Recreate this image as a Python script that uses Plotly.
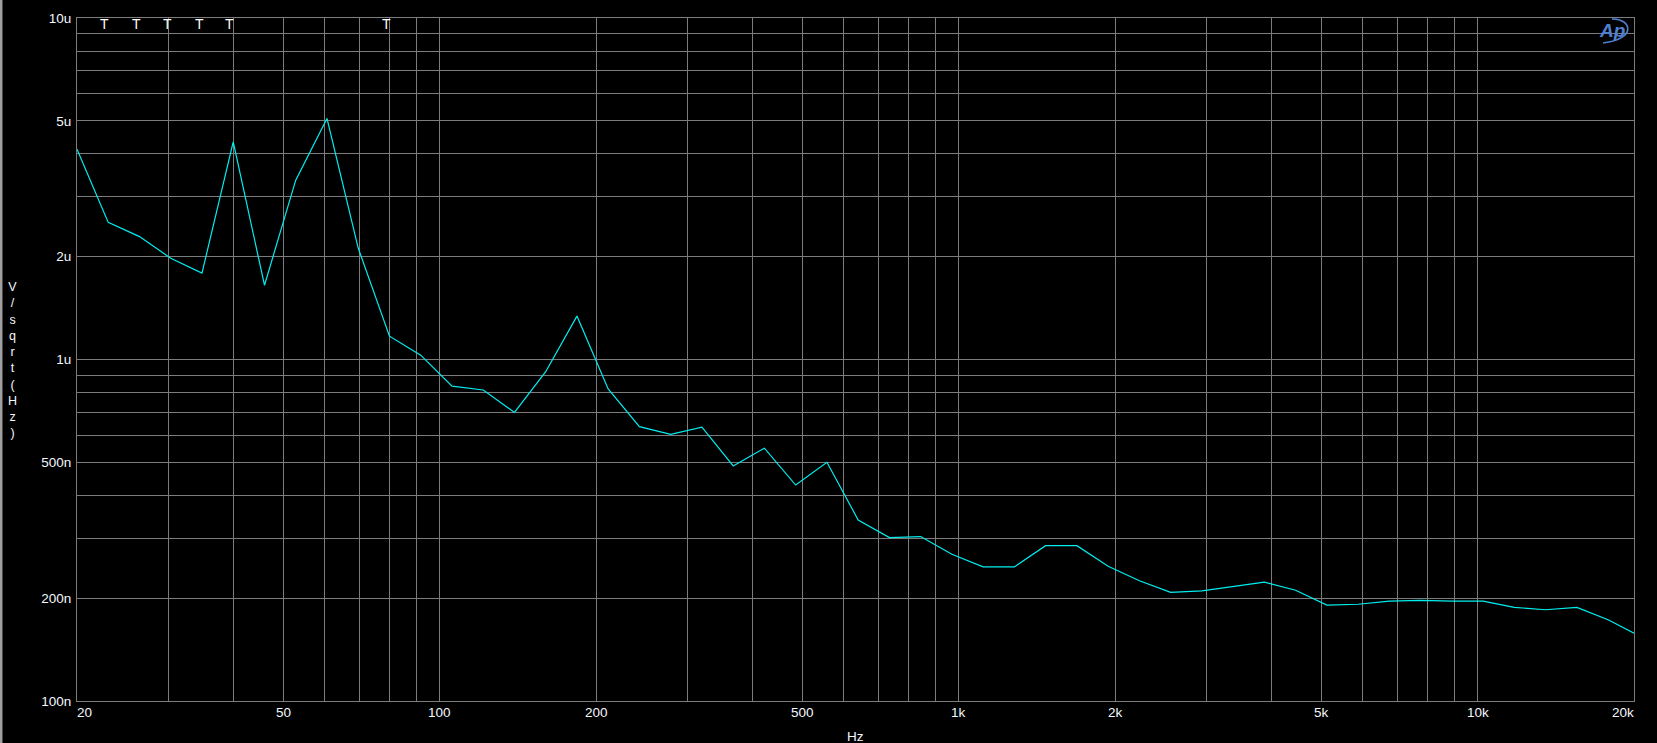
import math
import plotly.graph_objects as go

# ---------------- data ----------------
FREQ_HZ = [20, 22.97, 26.39, 30.31, 34.82, 40, 45.95, 52.78, 60.63, 69.64,
           80, 91.9, 105.6, 121.3, 139.3, 160, 183.8, 211.1, 242.5, 278.6,
           320, 367.6, 422.2, 485, 557.2, 640, 735.2, 844.5, 970, 1114,
           1280, 1470, 1689, 1940, 2229, 2560, 2941, 3378, 3880, 4457,
           5120, 5881, 6756, 7760, 8914, 10240, 11760, 13510, 15520, 17830,
           20000]
NOISE_V = [4.13e-6, 2.52e-6, 2.29e-6, 1.98e-6, 1.79e-6, 4.34e-6, 1.65e-6, 3.35e-6, 5.08e-6, 2.12e-6,
           1.17e-6, 1.03e-6, 836e-9, 814e-9, 700e-9, 921e-9, 1.34e-6, 820e-9, 636e-9, 604e-9,
           634e-9, 488e-9, 550e-9, 429e-9, 500e-9, 339e-9, 301e-9, 303e-9, 269e-9, 247e-9,
           247e-9, 285e-9, 285e-9, 248e-9, 225e-9, 208e-9, 210e-9, 216e-9, 223e-9, 211e-9,
           191e-9, 192e-9, 196e-9, 197e-9, 196e-9, 196e-9, 188e-9, 185e-9, 188e-9, 173e-9,
           158e-9]

X_TICK_VALS = [20, 50, 100, 200, 500, 1000, 2000, 5000, 10000, 20000]
X_TICK_TEXT = ["20", "50", "100", "200", "500", "1k", "2k", "5k", "10k", "20k"]
Y_TICK_VALS = [1e-7, 2e-7, 5e-7, 1e-6, 2e-6, 5e-6, 1e-5]
Y_TICK_TEXT = ["100n", "200n", "500n", "1u", "2u", "5u", "10u"]
T_MARK_FREQS = [22.6, 26.0, 29.9, 34.4, 39.4, 78.8]

X_TITLE = "Hz"
Y_TITLE = "V/sqrt(Hz)"

# ---------------- style ----------------
W, H = 1657, 743
L, R, T, B = 77, 23, 18, 42
GRID = "#7c7c7c"
TEXT = "#f4f8ff"
TRACE = "#00eef0"
FONT = "Liberation Sans, Arial, sans-serif"
LOGO = "#4f7fcf"

PLOT_W = W - L - R
PLOT_H = H - T - B


def px_x(px):
    return (px - L) / PLOT_W


def px_y(py):
    return (H - B - py) / PLOT_H


x_grid = [m * 10 ** d for d in range(1, 5) for m in range(1, 10)
          if 20 <= m * 10 ** d <= 20000] + [20000]
y_grid = [m * 10 ** d for d in range(-7, -5) for m in range(1, 10)] + [1e-5]

y_lab = {round(math.log10(v), 6): t for v, t in zip(Y_TICK_VALS, Y_TICK_TEXT)}
y_text = [y_lab.get(round(math.log10(v), 6), "") for v in y_grid]

fig = go.Figure()
fig.add_trace(go.Scatter(x=FREQ_HZ, y=NOISE_V, mode="lines",
                         line=dict(color=TRACE, width=1.2), hoverinfo="x+y"))

fig.update_xaxes(type="log", range=[math.log10(20), math.log10(20000)],
                 tickvals=x_grid, showticklabels=False, ticks="",
                 showgrid=True, gridcolor=GRID, gridwidth=1,
                 showline=True, linecolor=GRID, linewidth=1, mirror=True,
                 zeroline=False)
fig.update_yaxes(type="log", range=[-7, -5],
                 tickvals=y_grid, ticktext=y_text, ticks="",
                 tickfont=dict(family=FONT, size=13.5, color=TEXT),
                 ticklabelstandoff=2,
                 showgrid=True, gridcolor=GRID, gridwidth=1,
                 showline=True, linecolor=GRID, linewidth=1, mirror=True,
                 zeroline=False)

ann = []
for v, t in zip(X_TICK_VALS, X_TICK_TEXT):
    anchor = "center"
    if v == X_TICK_VALS[0]:
        anchor = "left"
    elif v == X_TICK_VALS[-1]:
        anchor = "right"
    ann.append(dict(x=math.log10(v), xref="x", y=0, yref="paper",
                    text=t, showarrow=False, xanchor=anchor, yanchor="middle",
                    yshift=-11, xshift=(-2 if anchor == "left" else (2 if anchor == "right" else 0)),
                    font=dict(family=FONT, size=13.5, color=TEXT)))

for f in T_MARK_FREQS:
    ann.append(dict(x=math.log10(f), xref="x", y=1, yref="paper",
                    text="T", showarrow=False, xanchor="center", yanchor="middle",
                    yshift=-6, font=dict(family=FONT, size=14, color="#ffffff")))

ann.append(dict(x=0.5, xref="paper", y=0, yref="paper", text=X_TITLE,
                showarrow=False, xanchor="center", yanchor="middle", yshift=-35,
                font=dict(family=FONT, size=13.5, color=TEXT)))
ann.append(dict(x=px_x(12), xref="paper", y=0.5, yref="paper",
                text="<br>".join(list(Y_TITLE)), showarrow=False,
                xanchor="center", yanchor="middle", align="center",
                font=dict(family=FONT, size=12.5, color=TEXT)))
ann.append(dict(x=px_x(1612), xref="paper", y=px_y(30), yref="paper",
                text="<b><i>Ap</i></b>", showarrow=False,
                xanchor="center", yanchor="middle",
                font=dict(family=FONT, size=19, color=LOGO)))

shapes = [
    dict(type="path", xref="paper", yref="paper",
         path=(f"M {px_x(1612)} {px_y(19)} C {px_x(1631)} {px_y(18)} "
               f"{px_x(1638)} {px_y(39)} {px_x(1603)} {px_y(43)}"),
         line=dict(color=LOGO, width=1.6)),
    dict(type="line", xref="paper", yref="paper",
         x0=px_x(1.2), x1=px_x(1.2), y0=px_y(0), y1=px_y(743),
         line=dict(color="#a0a0a0", width=2.5)),
]

fig.update_layout(width=W, height=H, margin=dict(l=L, r=R, t=T, b=B, autoexpand=False),
                  paper_bgcolor="black", plot_bgcolor="black",
                  showlegend=False, annotations=ann, shapes=shapes,
                  font=dict(family=FONT, color=TEXT))

fig.write_html("out.html", config={"displayModeBar": False},
               post_script="document.body.style.margin='0';document.body.style.padding='0';"
                           "document.body.style.overflow='hidden';"
                           "document.body.style.background='black';")
